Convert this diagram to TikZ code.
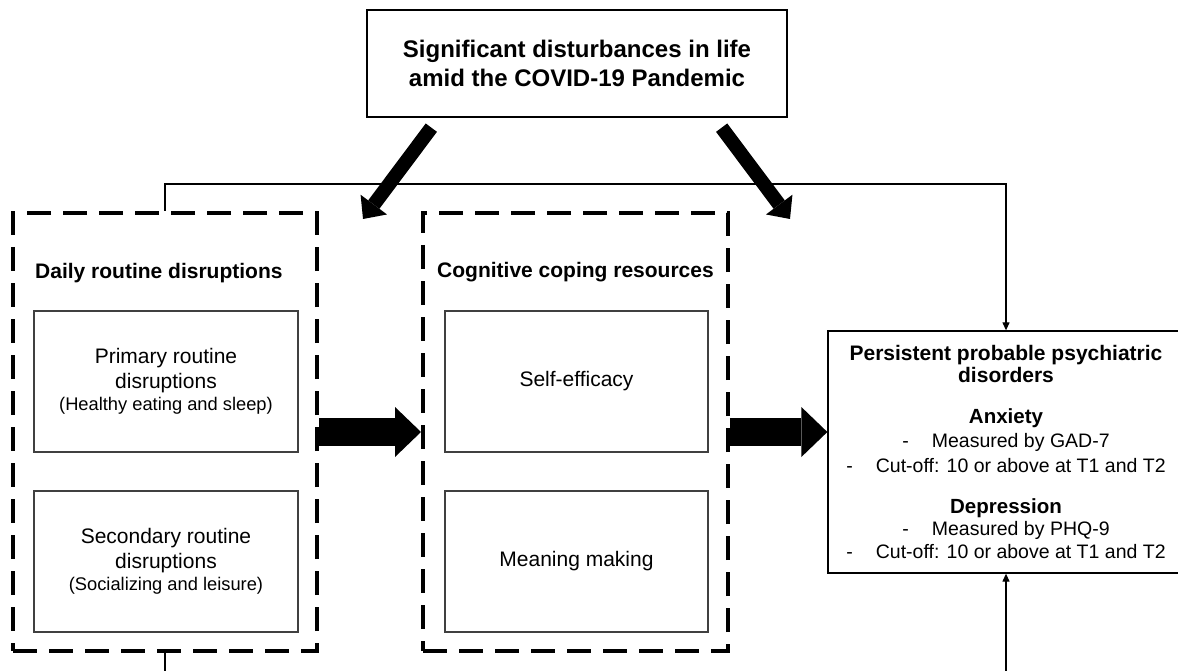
\documentclass[tikz,border=0pt]{standalone}
\usepackage{fontspec}
\setmainfont{Liberation Sans}
\usetikzlibrary{arrows.meta}

\begin{document}
\begin{tikzpicture}[
        x=1pt, y=-1pt,
        fat arrow/.style={line width=14pt, -{Triangle[length=18pt, width=33pt, line width=0pt]}},
        wide arrow/.style={line width=28pt, -{Triangle[length=26pt, width=50pt, line width=0pt]}},
        link/.style={line width=1.2pt, -{Triangle[length=8pt, width=7pt]}}]

        \tikzstyle{every node}=[align=center, inner sep=0pt, font=\fontsize{21}{25}\selectfont]
        \tikzstyle{solid box}=[draw, line width=1.3pt, rectangle]
        \tikzstyle{inner box}=[draw=black!75, line width=1.3pt, rectangle, minimum width=264pt, minimum height=141pt]
        \tikzstyle{dashed box}=[draw, line width=4pt, dash pattern=on 24pt off 12pt, rectangle, minimum width=304pt, minimum height=438pt]
        \tikzstyle{heading}=[anchor=base west, font=\fontsize{21}{25}\selectfont\bfseries]

        \useasboundingbox (0,0) rectangle (1178,671);

        \node[solid box, minimum width=420pt, minimum height=107pt, font=\fontsize{24}{29}\selectfont\bfseries] (covid) at (577,63.5) {Significant disturbances in life\\amid the COVID-19 Pandemic};

        \node[dashed box] (daily) at (165,432) {};
        \node[dashed box, minimum width=305pt] (coping) at (575.5,432) {};
        \node[heading] (dailyhead) at (35,278) {Daily routine disruptions};
        \node[heading] (copinghead) at (437,277) {Cognitive coping resources};

        \node[inner box] (primary) at (166,381.5) {Primary routine\\disruptions\\[-3pt]{\fontsize{18.3}{22}\selectfont (Healthy eating and sleep)}};
        \node[inner box] (secondary) at (166,561.5) {Secondary routine\\disruptions\\[-3pt]{\fontsize{18.3}{22}\selectfont (Socializing and leisure)}};
        \node[inner box, minimum width=263pt] (selfeff) at (576.5,381.5) {Self-efficacy};
        \node[inner box, minimum width=263pt] (meaning) at (576.5,561.5) {Meaning making};

        \node[solid box, minimum width=356pt, minimum height=242pt, font=\fontsize{19.5}{23.5}\selectfont] (outcome) at (1006,452) {
            {\fontsize{21}{22}\selectfont\bfseries Persistent probable psychiatric}\\[-1.5pt]
            {\fontsize{21}{22}\selectfont\bfseries disorders}\\[17.5pt]
            {\fontsize{20.5}{22}\selectfont\bfseries Anxiety}\\[0.5pt]
            -\hspace{23pt}Measured by GAD-7\\[1.5pt]
            -\hspace{23pt}Cut-off: 10 or above at T1 and T2\\[17.5pt]
            {\fontsize{20.5}{22}\selectfont\bfseries Depression}\\[-1.5pt]
            -\hspace{23pt}Measured by PHQ-9\\
            -\hspace{23pt}Cut-off: 10 or above at T1 and T2};

        % big arrows
        \coordinate (lefttip) at (363,219);
        \coordinate (righttip) at (790,219);
        \draw[fat arrow] ([shift={(65,10)}]covid.south west) -- (lefttip);
        \draw[fat arrow] ([shift={(-66,10)}]covid.south east) -- (righttip);
        \draw[wide arrow] (daily.east) -- (coping.west);
        \draw[wide arrow] (coping.east) -- (coping.east -| outcome.west);

        % thin links
        \coordinate (topline) at (0,184);
        \coordinate (bottomline) at (0,700);
        \draw[link] (daily.north) -- (daily.north |- topline) -| (outcome.north);
        \draw[link] (daily.south) -- (daily.south |- bottomline) -| (outcome.south);
    \end{tikzpicture}
\end{document}
